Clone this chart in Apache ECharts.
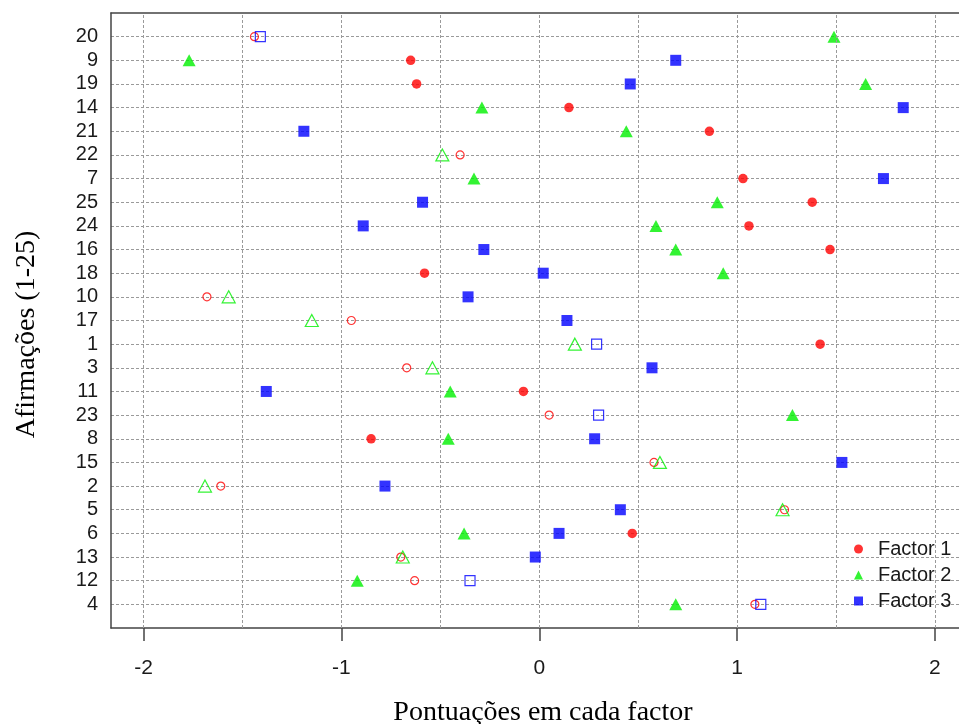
<!DOCTYPE html>
<html>
<head>
<meta charset="utf-8">
<script src="https://cdn.jsdelivr.net/npm/echarts@6/dist/echarts.min.js"></script>
<style>
html,body{margin:0;padding:0;background:#fff;}
#chart{width:959px;height:724px;}
</style>
</head>
<body>
<div id="chart"></div>
<script>
// Categories from bottom (position 1) to top (position 25)
const categories = ['4','12','13','6','5','2','15','8','23','11','3','1','17','10','18','16','24','25','7','22','21','14','19','9','20'];

// Factor scores (same order as categories); filled = 1 significant (solid marker), 0 = hollow
const f1Values = [1.09,-0.63,-0.70,0.47,1.24,-1.61,0.58,-0.85,0.05,-0.08,-0.67,1.42,-0.95,-1.68,-0.58,1.47,1.06,1.38,1.03,-0.40,0.86,0.15,-0.62,-0.65,-1.44];
const f1Filled = [0,0,0,1,0,0,0,1,0,1,0,1,0,0,1,1,1,1,1,0,1,1,1,1,0];

const f2Values = [0.69,-0.92,-0.69,-0.38,1.23,-1.69,0.61,-0.46,1.28,-0.45,-0.54,0.18,-1.15,-1.57,0.93,0.69,0.59,0.90,-0.33,-0.49,0.44,-0.29,1.65,-1.77,1.49];
const f2Filled = [1,1,0,1,0,0,0,1,1,1,0,0,0,0,1,1,1,1,1,0,1,1,1,1,1];

const f3Values = [1.12,-0.35,-0.02,0.10,0.41,-0.78,1.53,0.28,0.30,-1.38,0.57,0.29,0.14,-0.36,0.02,-0.28,-0.89,-0.59,1.74,null,-1.19,1.84,0.46,0.69,-1.41];
const f3Filled = [0,0,1,1,1,1,1,1,0,1,1,0,1,1,1,1,1,1,1,0,1,1,1,1,0];

const seriesNames = ['Factor 1','Factor 2','Factor 3'];
const xTickValues = [-2,-1,0,1,2];
const xGridValues = [-2,-1.5,-1,-0.5,0,0.5,1,1.5,2];
const X_MIN = -2.165, X_MAX = 2.122;

const RED = '#ff0000', GREEN = '#00f000', BLUE = '#0000ff';

function buildData(values, filled, color, sizeFilled, sizeHollow) {
  const out = [];
  values.forEach(function (v, i) {
    if (v === null) return;
    out.push({
      value: [v, i + 1],
      symbolSize: filled[i] ? sizeFilled : sizeHollow,
      itemStyle: filled[i]
        ? { color: color, borderWidth: 0 }
        : { color: 'rgba(255,255,255,0)', borderColor: color, borderWidth: 1.2 }
    });
  });
  return out;
}

const chart = echarts.init(document.getElementById('chart'), null, { renderer: 'canvas' });
const gridLine = { color: '#9a9a9a', type: [3, 2], width: 1 };
const frame = { show: true, onZero: false, lineStyle: { color: '#444', width: 1.5 } };

chart.setOption({
  animation: false,
  backgroundColor: '#ffffff',
  grid: { left: 111, top: 13, bottom: 96, right: 0, show: false, outerBoundsMode: 'none', containLabel: false },
  legend: {
    orient: 'vertical', left: 849, top: 534, itemGap: 6, itemWidth: 9, itemHeight: 9,
    textStyle: { fontFamily: 'Liberation Sans', fontSize: 20, color: '#1a1a1a', lineHeight: 20, padding: [0, 0, 0, 10] },
    data: [
      { name: seriesNames[0], icon: 'circle' },
      { name: seriesNames[1], icon: 'triangle' },
      { name: seriesNames[2], icon: 'rect' }
    ]
  },
  xAxis: [
    {
      type: 'value', min: X_MIN, max: X_MAX, position: 'bottom',
      name: 'Pontuações em cada factor', nameLocation: 'middle', nameGap: 71,
      nameTextStyle: { fontFamily: 'Liberation Serif', fontSize: 28, color: '#000', padding: [0, 0, 0, 16] },
      axisLine: frame,
      axisTick: { show: true, length: 13, lineStyle: { color: '#444', width: 1.5 }, customValues: xTickValues },
      axisLabel: { customValues: xTickValues, margin: 30, fontFamily: 'Liberation Sans', fontSize: 21, color: '#1a1a1a' },
      splitLine: { show: false }
    },
    {
      type: 'value', min: X_MIN, max: X_MAX, position: 'top',
      axisLine: frame, axisTick: { show: false }, axisLabel: { show: false }, splitLine: { show: false }
    }
  ],
  yAxis: {
    type: 'value', min: 0, max: 26, interval: 1,
    name: 'Afirmações (1-25)', nameLocation: 'middle', nameGap: 70, nameRotate: 90,
    nameTextStyle: { fontFamily: 'Liberation Serif', fontSize: 28, color: '#000', padding: [0, 28, 0, 0] },
    axisLine: frame,
    axisTick: { show: false },
    axisLabel: {
      margin: 13, fontFamily: 'Liberation Sans', fontSize: 20, color: '#1a1a1a',
      formatter: function (v) { return categories[v - 1] || ''; }
    },
    splitLine: { show: true, showMinLine: false, showMaxLine: false, lineStyle: gridLine }
  },
  series: [
    {
      name: 'grid', type: 'scatter', data: [], z: 1, silent: true,
      markLine: {
        silent: true, symbol: ['none', 'none'], label: { show: false }, lineStyle: gridLine,
        data: xGridValues.map(function (v) { return { xAxis: v }; })
      }
    },
    { name: seriesNames[0], type: 'scatter', symbol: 'circle', z: 3, itemStyle: { color: RED },
      data: buildData(f1Values, f1Filled, RED, 9.5, 8) },
    { name: seriesNames[1], type: 'scatter', symbol: 'triangle', z: 4, itemStyle: { color: GREEN },
      data: buildData(f2Values, f2Filled, GREEN, [13, 12], [13, 12]) },
    { name: seriesNames[2], type: 'scatter', symbol: 'rect', z: 5, itemStyle: { color: BLUE },
      data: buildData(f3Values, f3Filled, BLUE, 11, 10) }
  ]
});
</script>
</body>
</html>
